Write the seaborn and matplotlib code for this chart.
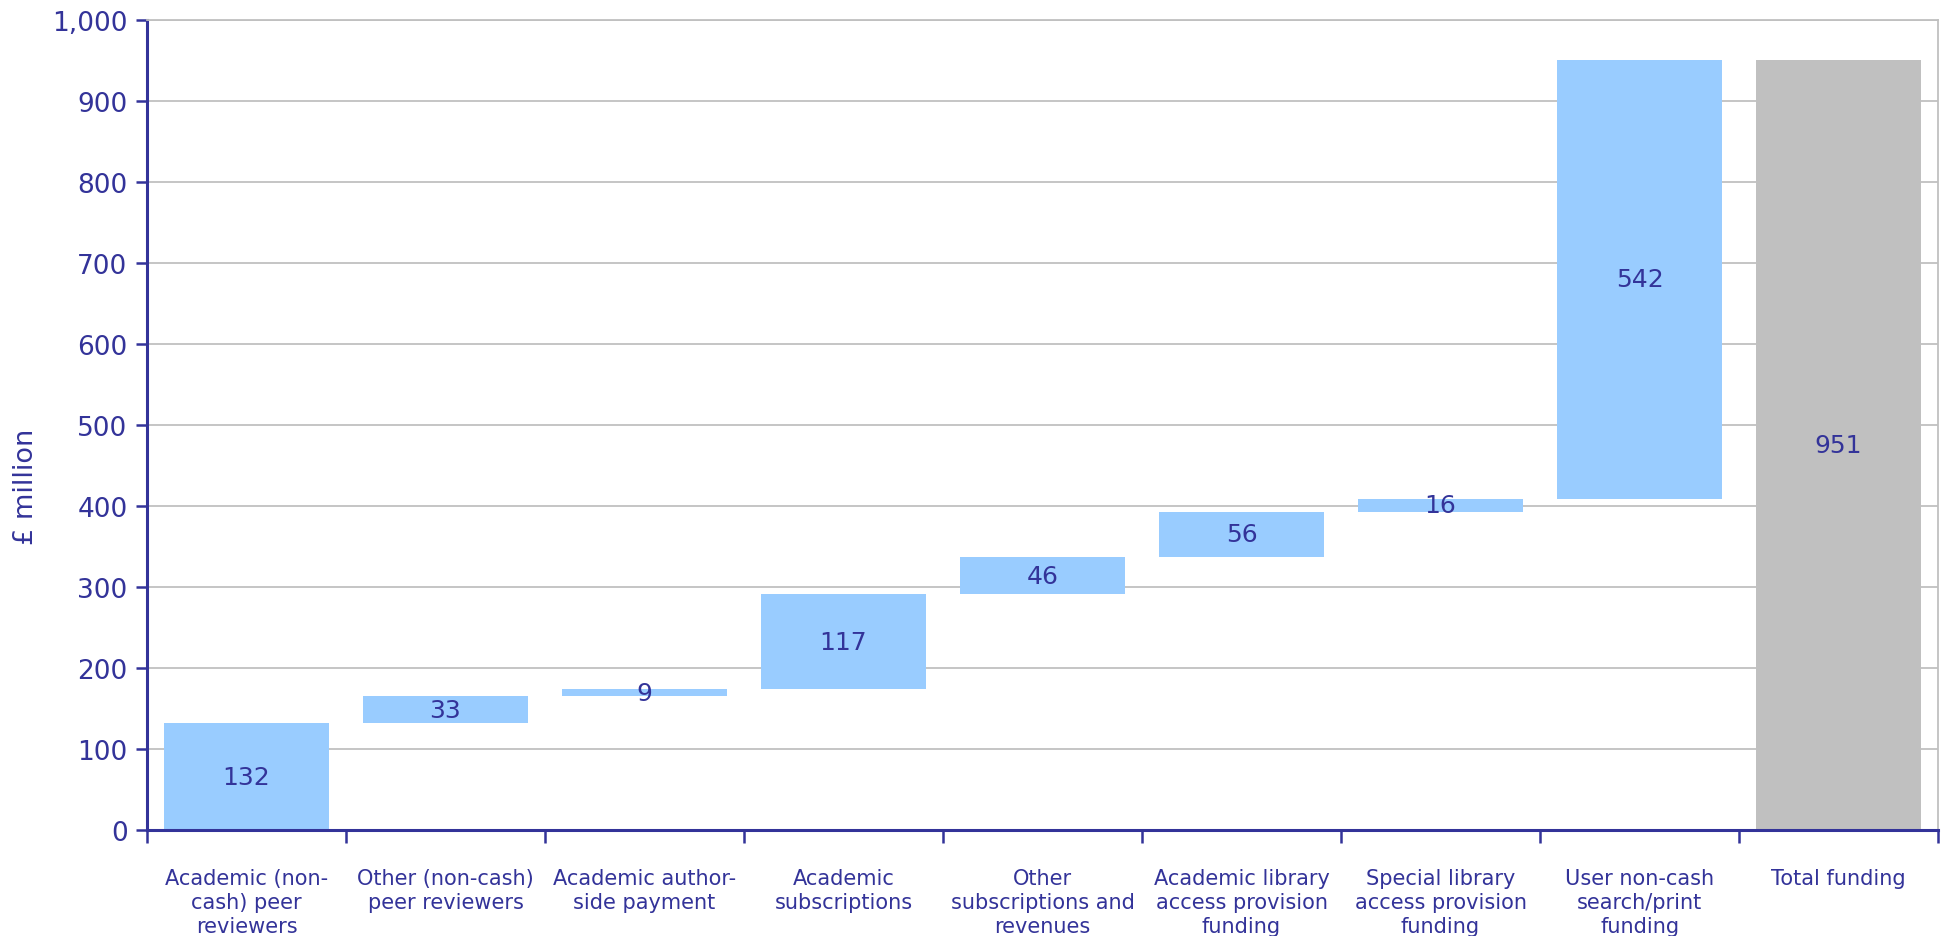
import matplotlib
matplotlib.use("Agg")
import matplotlib.pyplot as plt
import seaborn as sns
import numpy as np

# data
categories = [
    "Academic (non-\ncash) peer\nreviewers",
    "Other (non-cash)\npeer reviewers",
    "Academic author-\nside payment",
    "Academic\nsubscriptions",
    "Other\nsubscriptions and\nrevenues",
    "Academic library\naccess provision\nfunding",
    "Special library\naccess provision\nfunding",
    "User non-cash\nsearch/print\nfunding",
    "Total funding",
]
steps = [132, 33, 9, 117, 46, 56, 16, 542]
total = 951

heights = steps + [total]
bases = list(np.concatenate([[0], np.cumsum(steps)[:-1]])) + [0]

navy = "#333399"
blue = "#99CCFF"
grey = "#C0C0C0"

sns.set_theme(style="white")
plt.rcParams["font.family"] = ["DejaVu Sans"]

fig = plt.figure(figsize=(19.49, 9.37), dpi=100)
ax = fig.add_axes([0.0754, 0.1131, 0.919, 0.8645])

sns.barplot(x=categories, y=heights, bottom=bases, width=0.83,
            color=blue, saturation=1, ax=ax, zorder=2)

bar_colors = [blue] * len(steps) + [grey]
for patch, c in zip(ax.patches, bar_colors):
    patch.set_facecolor(c)
    patch.set_edgecolor("none")

for i, (b, h) in enumerate(zip(bases, heights)):
    ax.text(i, b + h / 2, str(h), ha="center", va="center",
            fontsize=18, color=navy, zorder=3)

ax.set_ylim(0, 1000)
ax.set_xlim(-0.5, len(categories) - 0.5)
ax.set_yticks(range(0, 1001, 100))
ax.yaxis.set_major_formatter(matplotlib.ticker.FuncFormatter(lambda v, p: f"{int(v):,}"))
ax.yaxis.grid(True, color=grey, linewidth=1.3, zorder=0)
ax.xaxis.grid(False)
ax.set_axisbelow(True)

# category boundary ticks on x
ax.set_xticks(np.arange(-0.5, len(categories), 1.0))
ax.set_xticklabels([])
ax.set_xticks(range(len(categories)), minor=True)
ax.set_xticklabels(categories, minor=True, fontsize=15, color=navy,
                   linespacing=1.25)
ax.tick_params(axis="x", which="major", direction="out", length=9,
               width=1.8, color=navy, bottom=True)
ax.tick_params(axis="x", which="minor", length=0, pad=27)
ax.tick_params(axis="y", direction="out", length=8, width=1.8,
               color=navy, labelcolor=navy, labelsize=19, pad=6, left=True)

ax.set_ylabel("£ million", fontsize=19.5, color=navy)
ax.yaxis.set_label_coords(-0.060, 0.425)
ax.set_xlabel("")

for s in ["left", "bottom"]:
    ax.spines[s].set_color(navy)
    ax.spines[s].set_linewidth(2.2)
for s in ["top", "right"]:
    ax.spines[s].set_color(grey)
    ax.spines[s].set_linewidth(1.3)

fig.savefig("out.png", dpi=100)
